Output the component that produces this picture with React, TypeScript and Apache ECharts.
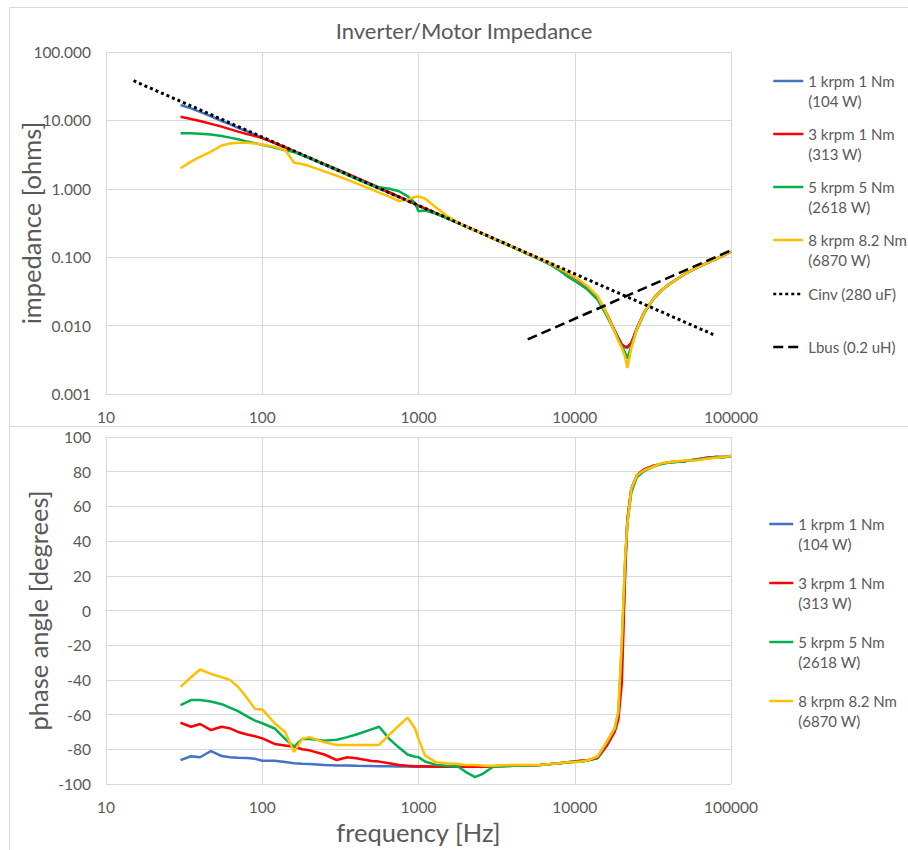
import React, { useEffect, useRef } from "react";
import * as echarts from "echarts";

// ---------------- data ----------------
const FREQ = [
  30, 35, 40, 47, 55, 62, 70, 80, 90, 100,
  120, 140, 160, 180, 200, 250, 300, 350, 400, 500,
  560, 650, 750, 850, 950, 1000, 1100, 1300, 1500, 1800,
  2000, 2300, 2600, 3000, 4000, 5000, 6000, 7000, 8000, 9000,
  10000, 11000, 12000, 14000, 16000, 18000, 19000, 20000, 21000, 21700,
  23000, 25000, 28000, 32000, 36000, 40000, 50000, 60000, 70000, 80000,
  90000, 100000,
];

const Z_1K = [
  16.8, 15.0, 13.3, 11.5, 9.8, 8.8, 7.8, 6.9, 6.15, 5.55,
  4.65, 4.0, 3.5, 3.12, 2.8, 2.25, 1.88, 1.61, 1.41, 1.13,
  1.01, 0.87, 0.755, 0.665, 0.595, 0.565, 0.515, 0.436, 0.378, 0.315,
  0.283, 0.246, 0.218, 0.188, 0.141, 0.112, 0.093, 0.079, 0.067, 0.058,
  0.05, 0.043, 0.037, 0.026, 0.015, 0.0085, 0.0066, 0.0053, 0.0048, 0.0047,
  0.0055, 0.0092, 0.016, 0.025, 0.033, 0.04, 0.056, 0.07, 0.082, 0.094,
  0.107, 0.121,
];
const Z_3K = [
  11.3, 10.5, 9.8, 8.9, 8.1, 7.45, 6.85, 6.3, 5.9, 5.5,
  4.7, 4.05, 3.55, 3.16, 2.85, 2.3, 1.93, 1.67, 1.46, 1.17,
  1.04, 0.89, 0.77, 0.675, 0.6, 0.568, 0.517, 0.437, 0.379, 0.316,
  0.284, 0.247, 0.219, 0.189, 0.142, 0.113, 0.094, 0.08, 0.067, 0.058,
  0.05, 0.043, 0.037, 0.026, 0.015, 0.0085, 0.0066, 0.0053, 0.0049, 0.0049,
  0.0056, 0.0092, 0.016, 0.025, 0.033, 0.04, 0.056, 0.07, 0.082, 0.094,
  0.107, 0.121,
];
const Z_5K = [
  6.5, 6.5, 6.4, 6.2, 5.9, 5.6, 5.3, 4.9, 4.65, 4.4,
  4.0, 3.65, 3.45, 3.12, 2.8, 2.25, 1.88, 1.6, 1.4, 1.12,
  1.05, 1.0, 0.92, 0.78, 0.62, 0.47, 0.48, 0.43, 0.376, 0.314,
  0.282, 0.245, 0.217, 0.187, 0.14, 0.111, 0.092, 0.077, 0.064, 0.052,
  0.045, 0.039, 0.034, 0.024, 0.014, 0.0082, 0.0063, 0.005, 0.004, 0.0033,
  0.005, 0.0088, 0.0155, 0.025, 0.033, 0.04, 0.056, 0.07, 0.082, 0.094,
  0.107, 0.121,
];
const Z_8K = [
  2.0, 2.5, 2.94, 3.5, 4.3, 4.6, 4.72, 4.7, 4.6, 4.45,
  4.1, 3.7, 2.4, 2.3, 2.15, 1.8, 1.55, 1.36, 1.2, 0.98,
  0.88, 0.77, 0.66, 0.7, 0.76, 0.77, 0.72, 0.53, 0.41, 0.32,
  0.285, 0.247, 0.219, 0.189, 0.142, 0.113, 0.094, 0.08, 0.068, 0.059,
  0.051, 0.044, 0.038, 0.027, 0.015, 0.0082, 0.006, 0.0047, 0.0035, 0.0024,
  0.0046, 0.009, 0.016, 0.025, 0.033, 0.04, 0.056, 0.07, 0.082, 0.094,
  0.107, 0.121,
];

const P_1K = [
  -86.2, -84, -84.6, -81, -83.9, -84.6, -84.8, -85, -85.5, -86.6,
  -86.6, -87.3, -88, -88.3, -88.5, -89, -89.3, -89.4, -89.5, -89.6,
  -89.7, -89.8, -89.9, -89.9, -90, -90, -90, -90, -90, -90,
  -90, -90, -90, -89.8, -89.5, -89.3, -89, -88.5, -88, -87.5,
  -87.2, -87, -86.5, -85, -78, -69, -61, -30, 25, 52,
  70, 78, 81.5, 83.5, 84.5, 85.5, 86, 87, 88, 88.5,
  88.5, 89,
];
const P_3K = [
  -64.7, -67, -65.4, -68.9, -67, -67.9, -70, -71.5, -72.5, -73.7,
  -76.9, -77.8, -78.5, -80, -80.6, -83, -86.2, -84.6, -85.2, -86.7,
  -87.1, -88, -89, -89.5, -89.7, -89.8, -89.8, -90, -90, -90,
  -90, -90, -90, -89.8, -89.5, -89.3, -89, -88.5, -88, -87.5,
  -87, -86.5, -86.5, -85, -78, -70, -63, -42, 20, 52,
  70, 78, 81.5, 83.5, 84.5, 85.5, 86, 87, 88, 88.5,
  88.5, 89,
];
const P_5K = [
  -54.5, -51.6, -51.6, -52.5, -54, -56, -58, -61, -63.5, -65,
  -68, -74, -78.5, -74, -74, -75, -74.5, -73, -71.5, -68.5,
  -67, -74, -79, -83, -84.3, -84.5, -87, -89, -89.5, -90,
  -93, -96, -94, -90, -89.5, -89.3, -89, -88.5, -88, -87.5,
  -87.2, -87, -86.5, -84.5, -76, -68, -59, -20, 28, 50,
  68, 77, 80.5, 83, 84.5, 85.2, 86, 87, 87.6, 88.5,
  88.3, 89,
];
const P_8K = [
  -44, -38.5, -34, -36.5, -38.5, -40, -44, -50.5, -56.8, -57,
  -65, -70, -81.5, -74, -73, -76, -77.5, -77.5, -77.5, -77.5,
  -77.5, -71.5, -66.3, -61.7, -68, -74, -83.5, -87.5, -88, -88.5,
  -89, -89, -89.5, -89.5, -89, -89, -89, -88.5, -88, -87.5,
  -87.5, -87, -86.5, -84, -76, -68, -58, -18, 30, 50,
  70, 78, 81, 83, 85, 85.5, 86.5, 86.5, 87.5, 88,
  88.5, 89,
];

const CINV_F = [15, 77000];
const CINV_Z = [38, 0.0074];
const LBUS_F = [5000, 100000];
const LBUS_Z = [0.0063, 0.126];

const NAMES = ["1 krpm 1 Nm", "3 krpm 1 Nm", "5 krpm 5 Nm", "8 krpm 8.2 Nm"];
const POWERS = ["(104 W)", "(313 W)", "(2618 W)", "(6870 W)"];
const CINV_NAME = "Cinv (280 uF)";
const LBUS_NAME = "Lbus (0.2 uH)";
const IMPEDANCE = [Z_1K, Z_3K, Z_5K, Z_8K];
const PHASE = [P_1K, P_3K, P_5K, P_8K];
const COLORS = ["#4472C4", "#FF0000", "#00B050", "#FFC000"];

const TITLE = "Inverter/Motor Impedance";
const Y_TOP_NAME = "impedance [ohms]";
const Y_BOT_NAME = "phase angle [degrees]";
const X_NAME = "frequency [Hz]";

// ---------------- styling ----------------
const TXT = "#595959";
const GRID = "#d9d9d9";
const FONT = "Lato, 'Open Sans', sans-serif";
const TICK_SIZE = 15.5;
const NAME_SIZE = 25.5;
const LEG_SIZE = 15;

const TOP_LEG_Y = [81, 134, 187, 240, 294, 347];
const BOT_LEG_Y = [524, 583, 642, 701];

function xAxis(gridIndex: number, name?: string) {
  return {
    type: "log",
    logBase: 10,
    min: 10,
    max: 100000,
    gridIndex,
    name: name || "",
    nameLocation: "middle",
    nameGap: 35,
    nameTextStyle: { color: TXT, fontSize: NAME_SIZE, fontFamily: FONT },
    axisLine: { show: true, lineStyle: { color: GRID, width: 1 } },
    axisTick: { show: false },
    axisLabel: {
      color: TXT,
      fontSize: TICK_SIZE,
      fontFamily: FONT,
      margin: 15,
      formatter: (v: number) => String(Math.round(v)),
    },
    splitLine: { show: true, lineStyle: { color: GRID, width: 1 } },
  };
}

function legendItem(name: string, text: string, left: number, y: number, w: number) {
  return {
    data: [name],
    left,
    top: y - 30,
    orient: "vertical",
    padding: 0,
    itemWidth: w,
    itemHeight: 14,
    selectedMode: false,
    formatter: () => text,
    itemStyle: { opacity: 0 },
    lineStyle: { width: 2.5 },
    textStyle: { color: TXT, fontSize: LEG_SIZE, fontFamily: FONT, lineHeight: 20 },
  };
}

export default function App() {
  const ref = useRef<HTMLDivElement>(null);

  useEffect(() => {
    document.body.style.margin = "0";
    if (!ref.current) return;
    const chart = echarts.init(ref.current, undefined, { renderer: "svg" });

    const series: any[] = [];
    NAMES.forEach((n, i) => {
      series.push({
        type: "line",
        name: n,
        xAxisIndex: 0,
        yAxisIndex: 0,
        data: FREQ.map((f, j) => [f, IMPEDANCE[i][j]]),
        symbol: "none",
        showSymbol: false,
        lineStyle: { width: 2.5, color: COLORS[i] },
        itemStyle: { color: COLORS[i] },
        silent: true,
      });
    });
    series.push({
      type: "line",
      name: CINV_NAME,
      xAxisIndex: 0,
      yAxisIndex: 0,
      data: CINV_F.map((f, j) => [f, CINV_Z[j]]),
      symbol: "none",
      lineStyle: { width: 3, color: "#000000", type: [3, 3] },
      itemStyle: { color: "#000000" },
      silent: true,
    });
    series.push({
      type: "line",
      name: LBUS_NAME,
      xAxisIndex: 0,
      yAxisIndex: 0,
      data: LBUS_F.map((f, j) => [f, LBUS_Z[j]]),
      symbol: "none",
      lineStyle: { width: 2.5, color: "#000000", type: [10, 5] },
      itemStyle: { color: "#000000" },
      silent: true,
    });
    NAMES.forEach((n, i) => {
      series.push({
        type: "line",
        name: n,
        xAxisIndex: 1,
        yAxisIndex: 1,
        data: FREQ.map((f, j) => [f, PHASE[i][j]]),
        symbol: "none",
        showSymbol: false,
        lineStyle: { width: 2.5, color: COLORS[i] },
        itemStyle: { color: COLORS[i] },
        silent: true,
      });
    });

    const legends: any[] = [];
    NAMES.forEach((n, i) => {
      legends.push(legendItem(n, ` \n${n}\n${POWERS[i]}`, 772, TOP_LEG_Y[i], 30));
    });
    legends.push(legendItem(CINV_NAME, ` \n${CINV_NAME}\n `, 772, TOP_LEG_Y[4], 30));
    legends.push(legendItem(LBUS_NAME, ` \n${LBUS_NAME}\n `, 772, TOP_LEG_Y[5], 30));
    NAMES.forEach((n, i) => {
      legends.push(legendItem(n, ` \n${n}\n${POWERS[i]}`, 768, BOT_LEG_Y[i], 24));
    });

    chart.setOption({
      animation: false,
      backgroundColor: "#ffffff",
      textStyle: { fontFamily: FONT },
      title: {
        text: TITLE,
        left: 464,
        top: 19,
        padding: 0,
        textAlign: "center",
        textStyle: { color: TXT, fontSize: 22, fontWeight: "normal", fontFamily: FONT },
      },
      graphic: [
        {
          type: "rect",
          silent: true,
          z: -10,
          shape: { x: 9.5, y: 7.5, width: 1000, height: 1000 },
          style: { fill: "none", stroke: GRID, lineWidth: 1 },
        },
        {
          type: "line",
          silent: true,
          z: -10,
          shape: { x1: 9, y1: 426.5, x2: 908, y2: 426.5 },
          style: { stroke: GRID, lineWidth: 1 },
        },
      ],
      legend: legends,
      grid: [
        { left: 106, top: 52, width: 625, height: 342, containLabel: false, outerBoundsMode: "none" },
        { left: 106, top: 437, width: 625, height: 347, containLabel: false, outerBoundsMode: "none" },
      ],
      xAxis: [xAxis(0), xAxis(1, X_NAME)],
      yAxis: [
        {
          type: "log",
          logBase: 10,
          min: 0.001,
          max: 100,
          gridIndex: 0,
          name: Y_TOP_NAME,
          nameLocation: "middle",
          nameGap: 62,
          nameMoveOverlap: false,
          nameTextStyle: { color: TXT, fontSize: NAME_SIZE, fontFamily: FONT },
          axisLine: { show: true, lineStyle: { color: GRID, width: 1 } },
          axisTick: { show: false },
          axisLabel: {
            color: TXT,
            fontSize: TICK_SIZE,
            fontFamily: FONT,
            margin: 15,
            formatter: (v: number) => v.toFixed(3),
          },
          splitLine: { show: true, lineStyle: { color: GRID, width: 1 } },
        },
        {
          type: "value",
          min: -100,
          max: 100,
          interval: 20,
          gridIndex: 1,
          name: Y_BOT_NAME,
          nameLocation: "middle",
          nameGap: 55,
          nameMoveOverlap: false,
          nameTextStyle: { color: TXT, fontSize: NAME_SIZE, fontFamily: FONT },
          axisLine: { show: true, lineStyle: { color: GRID, width: 1 } },
          axisTick: { show: false },
          axisLabel: { color: TXT, fontSize: TICK_SIZE, fontFamily: FONT, margin: 15 },
          splitLine: { show: true, lineStyle: { color: GRID, width: 1 } },
        },
      ],
      series,
    });

    return () => chart.dispose();
  }, []);

  return <div ref={ref} style={{ width: 908, height: 850 }} />;
}
